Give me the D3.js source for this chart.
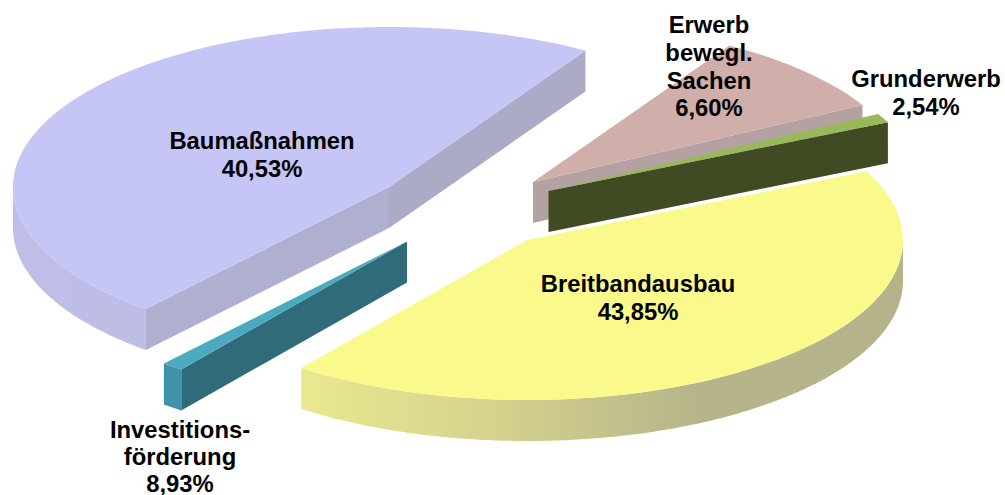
<!DOCTYPE html>
<html lang="de">
<head>
<meta charset="utf-8">
<title>Kreisdiagramm</title>
<script src="https://cdn.jsdelivr.net/npm/d3@7"></script>
<style>
html,body{margin:0;padding:0;background:#fff;overflow:hidden}
text{font-family:"Liberation Sans",Arial,sans-serif;font-weight:700;font-size:23.8px;fill:#000;text-anchor:middle}
</style>
</head>
<body>
<svg id="chart" width="1005" height="495"></svg>
<script>
// Data, clockwise from the Erwerb slice
const categories = ["Erwerb bewegl. Sachen", "Grunderwerb", "Breitbandausbau", "Investitionsförderung", "Baumaßnahmen"];
// Percentages as printed on the labels
const labelValues = ["6,60%", "2,54%", "43,85%", "8,93%", "40,53%"];
// Share of the circle each slice visibly covers
// (the picture's sectors do not follow the printed percentages)
const sweepShares = [8.25, 0.92, 42.33, 0.94, 47.56];
const labelLines = [
  ["Erwerb", "bewegl.", "Sachen"],
  ["Grunderwerb"],
  ["Breitbandausbau"],
  ["Investitions-", "förderung"],
  ["Baumaßnahmen"]
];

// Layout
const width = 1005, height = 495;
const rx = 376, ry = 160, depth = 41;
const firstAngle = 31.5 * Math.PI / 180;
const origins = [[533, 182], [548.5, 191], [527, 240], [407, 241.5], [389, 187]];
const labelPos = [[709, 33], [926, 87], [638, 292], [180, 437.5], [262, 149]];
const lineSteps = [27.8, 27.8, 27.8, 27, 27.8];
const drawOrder = [4, 0, 1, 3, 2];
const palette = [
  {top: "#D0AEAA", edgeEnd: "#B4A2A2"},
  {top: "#98B95A", edgeEnd: "#414B23"},
  {top: "#FAF98C", outer: "url(#gradBreit)"},
  {top: "#4BAABF", edgeStart: "#306B7A", outer: "#4092A8"},
  {top: "#C6C6F6", edgeStart: "#AFAFD0", edgeEnd: "#ABABC8", outer: "url(#gradBau)"}
];

const svg = d3.select("#chart");
const defs = svg.append("defs");
function gradient(id, x1, x2, stops) {
  const g = defs.append("linearGradient").attr("id", id)
    .attr("gradientUnits", "userSpaceOnUse")
    .attr("x1", x1).attr("x2", x2).attr("y1", 0).attr("y2", 0);
  stops.forEach(([o, c]) => g.append("stop").attr("offset", o).attr("stop-color", c));
}
gradient("gradBreit", 302, 900, [[0, "#EAE88F"], [0.3, "#D6D48D"], [0.66, "#B6B58A"], [1, "#B4B38A"]]);
gradient("gradBau", 12, 147, [[0, "#BEBEE8"], [1, "#BDBDE6"]]);

const sx = d3.scaleLinear().domain([-1, 1]).range([-rx, rx]);
const sy = d3.scaleLinear().domain([-1, 1]).range([-ry, ry]);
const line = d3.line();

const slices = d3.pie().sort(null)
  .startAngle(firstAngle).endAngle(firstAngle + 2 * Math.PI)(sweepShares);

const project = (i, a, dz = 0) => [origins[i][0] + sx(Math.sin(a)), origins[i][1] - sy(Math.cos(a)) + dz];

function arcPoints(i, a0, a1, dz = 0) {
  const n = Math.max(2, Math.ceil(Math.abs(a1 - a0) / 0.01));
  return d3.range(n + 1).map(k => project(i, a0 + (a1 - a0) * k / n, dz));
}

drawOrder.forEach(i => {
  const s = slices[i], st = palette[i], g = svg.append("g");
  const apex = origins[i], apexLow = [apex[0], apex[1] + depth];
  const wall = (a, fill) => g.append("path")
    .attr("d", line([apex, project(i, a), project(i, a, depth), apexLow]) + "Z")
    .attr("fill", fill);
  if (st.edgeStart) wall(s.startAngle, st.edgeStart);
  if (st.edgeEnd) wall(s.endAngle, st.edgeEnd);
  if (st.outer) {
    // The rim is visible only on the front half of the ellipse
    const a0 = Math.max(s.startAngle, Math.PI / 2);
    const a1 = Math.min(s.endAngle, 3 * Math.PI / 2);
    if (a1 > a0) {
      const upper = arcPoints(i, a0, a1);
      const lower = arcPoints(i, a1, a0, depth);
      g.append("path").attr("d", line(upper.concat(lower)) + "Z").attr("fill", st.outer);
    }
  }
  g.append("path")
    .attr("d", line([apex].concat(arcPoints(i, s.startAngle, s.endAngle))) + "Z")
    .attr("fill", st.top);
});

categories.forEach((c, i) => {
  const t = svg.append("text").attr("aria-label", c);
  labelLines[i].concat([labelValues[i]]).forEach((l, k) => {
    t.append("tspan").attr("x", labelPos[i][0]).attr("y", labelPos[i][1] + k * lineSteps[i]).text(l);
  });
});
</script>
</body>
</html>
